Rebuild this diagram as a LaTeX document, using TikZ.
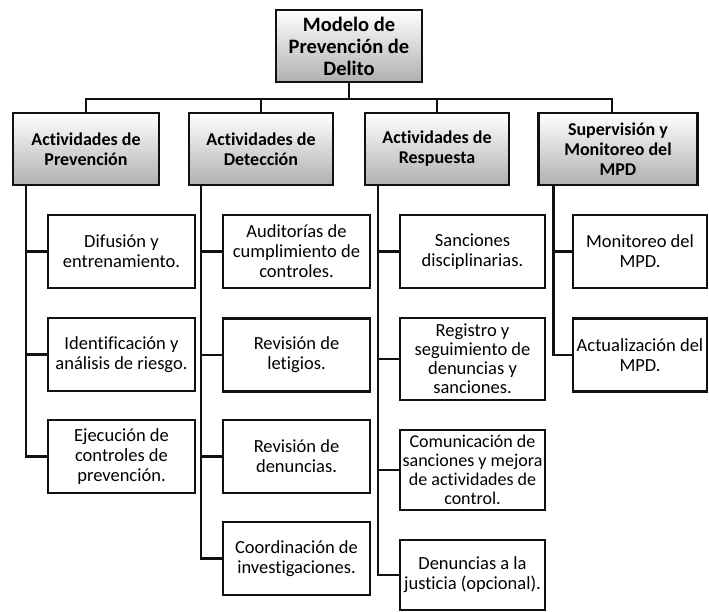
\documentclass[tikz,border=0pt]{standalone}
\usepackage{fontspec}
\setmainfont{Carlito}[Ligatures=NoCommon]
\definecolor{Shade}{HTML}{B0B0B0}
\definecolor{Ink}{HTML}{111111}

\begin{document}
\begin{tikzpicture}[x=1pt,y=-1pt,line width=2.2pt,
 topbox/.style={draw=Ink,top color=white,bottom color=Shade,align=center,inner sep=0pt,minimum height=72pt,font=\bfseries\fontsize{20.5}{22}\selectfont},
 headbox/.style={draw=Ink,top color=white,bottom color=Shade,align=center,inner sep=0pt,minimum height=72pt,font=\bfseries\fontsize{18}{20}\selectfont},
 leafbox/.style={draw=Ink,fill=white,align=center,inner sep=0pt,minimum height=73pt,minimum width=147pt,font=\fontsize{18.5}{20}\selectfont},
 link/.style={draw=Ink,line width=2.6pt}]
\useasboundingbox (0,0) rectangle (709,612);
\fill[white] (0,0) rectangle (709,612);
\node[topbox,minimum width=146pt] (root) at (349,46){Modelo de\\Prevención de\\Delito};
\node[headbox,minimum width=146pt] (prev) at (86,149){Actividades de\\Prevención};
\node[headbox,minimum width=144pt] (det) at (261,149){Actividades de\\Detección};
\node[headbox,minimum width=144pt] (resp) at (437,149){Actividades de\\Respuesta};
\node[headbox,minimum width=159pt] (sup) at (618,149){Supervisión y\\Monitoreo del\\MPD};
% ramas principales
\draw[link] (root.south) -- ++(0,16) coordinate (bar);
\draw[link] (prev.north) |- (bar);\draw[link] ([xshift=-6pt]sup.north) |- (bar);
\draw[link] (det.north) -- (det.north |- bar);\draw[link] (resp.north) -- (resp.north |- bar);
% prevencion
\node[leafbox] (p1) at (121.5,251.5){Difusión y\\entrenamiento.};
\node[leafbox] (p2) at (121.5,354.5){Identificación y\\análisis de riesgo.};
\node[leafbox] (p3) at (121.5,456.5){Ejecución de\\controles de\\prevención.};
% deteccion
\node[leafbox] (d1) at (296.5,251.5){Auditorías de\\cumplimiento de\\controles.};
\node[leafbox] (d2) at (296.5,355){Revisión de\\letigios.};
\node[leafbox] (d3) at (296.5,456.5){Revisión de\\denuncias.};
\node[leafbox] (d4) at (296.5,558.5){Coordinación de\\investigaciones.};
% respuesta
\node[leafbox,minimum width=145pt] (r1) at (472.5,251.5){Sanciones\\disciplinarias.};
\node[leafbox,minimum width=145pt,minimum height=82pt,font=\fontsize{18.5}{19}\selectfont] (r2) at (472.5,359){Registro y\\seguimiento de\\denuncias y\\sanciones.};
\node[leafbox,minimum width=145pt,minimum height=80pt,font=\fontsize{18}{19}\selectfont] (r3) at (472.5,470){Comunicación de\\sanciones y mejora\\de actividades de\\control.};
\node[leafbox,minimum width=145pt,minimum height=70pt] (r4) at (472.5,575){Denuncias a la\\justicia (opcional).};
% supervision
\node[leafbox,minimum width=134pt] (s1) at (640,251.5){Monitoreo del\\MPD.};
\node[leafbox,minimum width=134pt] (s2) at (640,355){Actualización del\\MPD.};
\foreach \n in {p1,p2,p3}{\draw[link] ([xshift=14pt]prev.south west) |- (\n.west);}
\foreach \n in {d1,d2,d3,d4}{\draw[link] ([xshift=13pt]det.south west) |- (\n.west);}
\foreach \n in {r1,r2,r3,r4}{\draw[link] ([xshift=14pt]resp.south west) |- (\n.west);}
\foreach \n in {s1,s2}{\draw[link] ([xshift=16pt]sup.south west) |- (\n.west);}
\end{tikzpicture}
\end{document}
